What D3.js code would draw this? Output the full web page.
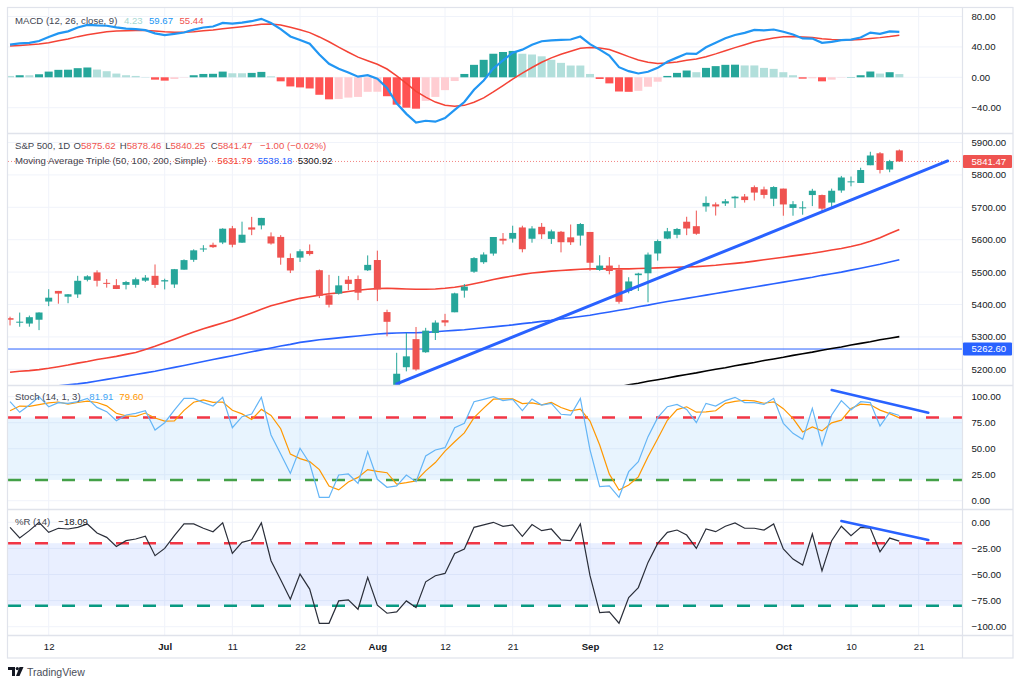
<!DOCTYPE html>
<html><head><meta charset="utf-8">
<script src="https://cdn.jsdelivr.net/npm/d3@7"></script>
<style>body{margin:0;background:#fff;} svg{display:block;font-family:"Liberation Sans",Arial,sans-serif;}</style>
</head><body><svg id="c" width="1024" height="687"></svg>
<script>
// ---------- DATA ----------
const dates = ["06-06","06-07","06-10","06-11","06-12","06-13","06-14","06-17","06-18","06-20","06-21","06-24","06-25","06-26","06-27","06-28",
"07-01","07-02","07-03","07-05","07-08","07-09","07-10","07-11","07-12","07-15","07-16","07-17","07-18","07-19","07-22","07-23","07-24","07-25","07-26","07-29","07-30","07-31",
"08-01","08-02","08-05","08-06","08-07","08-08","08-09","08-12","08-13","08-14","08-15","08-16","08-19","08-20","08-21","08-22","08-23","08-26","08-27","08-28","08-29","08-30",
"09-03","09-04","09-05","09-06","09-09","09-10","09-11","09-12","09-13","09-16","09-17","09-18","09-19","09-20","09-23","09-24","09-25","09-26","09-27","09-30",
"10-01","10-02","10-03","10-04","10-07","10-08","10-09","10-10","10-11","10-14","10-15","10-16","10-17","10-18","10-21","10-22","10-23","10-24"].map(d=>"2024-"+d);

const open = [5357.8,5343.8,5341.2,5353.0,5409.1,5441.9,5424.1,5431.1,5476.2,5499.1,5466.8,5459.6,5460.7,5460.7,5473.6,5488.5,
5471.1,5461.8,5507.4,5537.9,5572.8,5584.2,5591.3,5635.2,5590.8,5638.0,5644.1,5610.2,5608.6,5543.4,5544.7,5565.3,5505.8,5428.7,5433.7,5476.6,5478.7,5505.6,
5537.3,5376.6,5151.1,5206.4,5293.1,5252.6,5312.0,5351.5,5376.0,5442.8,5501.1,5530.5,5557.2,5602.9,5603.1,5637.8,5602.9,5639.7,5602.5,5624.5,5607.3,5612.7,
5623.9,5506.7,5520.1,5507.3,5442.1,5490.5,5496.4,5557.5,5603.3,5615.2,5655.5,5641.7,5702.6,5709.0,5711.9,5727.7,5733.3,5762.2,5755.4,5726.5,
5757.7,5698.1,5698.2,5737.8,5737.8,5714.6,5751.8,5778.4,5775.1,5829.8,5866.7,5816.6,5875.62];
const high = [5362.4,5375.1,5365.8,5375.9,5447.3,5441.9,5432.4,5488.5,5490.4,5505.5,5478.3,5478.3,5472.9,5483.1,5490.8,5523.6,
5479.6,5509.7,5539.3,5570.3,5583.1,5590.8,5635.4,5642.5,5655.6,5670.4,5667.3,5622.5,5614.1,5557.5,5570.4,5585.3,5508.0,5491.5,5488.3,5487.7,5489.5,5551.5,
5566.2,5383.9,5250.9,5312.3,5330.6,5328.0,5351.0,5371.2,5436.5,5463.2,5546.2,5561.0,5608.3,5620.5,5643.2,5643.2,5641.8,5651.6,5631.2,5627.0,5646.9,5651.4,
5623.9,5552.0,5546.3,5522.5,5484.2,5497.9,5560.4,5600.7,5636.3,5636.3,5670.8,5689.8,5733.6,5715.1,5725.4,5735.3,5741.0,5767.4,5763.8,5765.1,
5757.7,5719.1,5718.8,5757.0,5739.3,5757.7,5796.8,5795.0,5822.1,5871.4,5870.4,5846.4,5878.46];
const low = [5335.4,5331.3,5331.5,5320.9,5395.0,5402.5,5404.0,5420.4,5471.3,5455.6,5452.0,5447.6,5446.6,5451.9,5469.5,5451.1,
5446.5,5451.2,5507.4,5531.6,5562.5,5574.6,5586.4,5576.5,5590.4,5614.0,5631.8,5584.8,5522.8,5497.0,5531.4,5550.9,5419.9,5390.9,5430.7,5444.4,5413.4,5503.5,
5410.4,5302.0,5119.3,5193.6,5195.5,5250.9,5290.4,5333.1,5376.0,5421.1,5497.6,5525.5,5550.7,5585.5,5591.0,5560.9,5590.8,5602.3,5587.0,5560.9,5583.7,5581.8,
5504.4,5503.7,5493.1,5402.6,5434.5,5441.7,5406.9,5535.5,5601.7,5604.5,5614.0,5615.1,5686.4,5674.5,5704.2,5698.0,5714.6,5721.0,5727.3,5703.5,
5674.0,5674.0,5677.1,5703.7,5683.8,5694.6,5745.0,5764.8,5775.1,5829.8,5804.5,5808.3,5840.25];
const close = [5353.0,5347.0,5360.8,5375.3,5421.0,5433.7,5431.6,5473.2,5487.0,5473.2,5464.6,5447.9,5469.3,5477.9,5482.9,5460.5,
5475.1,5509.0,5537.0,5567.2,5572.9,5577.0,5633.9,5584.5,5615.4,5631.2,5667.2,5588.3,5544.6,5505.0,5564.4,5555.7,5427.1,5399.2,5459.1,5463.5,5436.4,5522.3,
5446.7,5346.6,5186.3,5240.0,5199.5,5319.3,5344.2,5344.4,5434.4,5455.2,5543.2,5554.3,5608.3,5597.1,5620.9,5570.6,5634.6,5616.8,5625.8,5592.2,5592.0,5648.4,
5528.9,5520.1,5503.4,5408.4,5471.1,5495.5,5554.1,5595.8,5626.0,5633.1,5634.6,5618.3,5713.6,5702.6,5718.6,5732.9,5722.3,5745.4,5738.2,5762.5,
5708.8,5709.5,5699.9,5751.1,5695.9,5751.1,5792.0,5780.1,5815.0,5859.9,5815.3,5842.47,5841.47];

const sma50 = [5191,5194,5196,5199,5203,5208,5213,5219,5224,5230,5235,5240,5246,5252,5261,5271,
5282,5293,5304,5315,5325,5334,5343,5352,5363,5374,5385,5396,5404,5412,5419,5424,5429,5433,5436,5440,5444,5447,
5449,5450,5449,5448,5447,5447,5448,5450,5453,5458,5464,5470,5477,5483,5488,5493,5497,5500,5503,5505,5507,5509,
5510,5510,5510,5510,5510,5511,5512,5513,5514,5515,5516,5517,5519,5521,5524,5527,5530,5534,5538,5542,
5546,5550,5554,5558,5563,5568,5573,5579,5586,5595,5606,5619,5631.79];
const sma100 = [5130,5134,5138,5142,5146,5149,5152,5155,5159,5164,5169,5174,5179,5184,5189,5194,
5200,5206,5212,5218,5224,5230,5236,5242,5248,5254,5260,5266,5272,5277,5283,5287,5291,5294,5297,5300,5303,5306,
5309,5311,5312,5313,5313,5314,5316,5318,5320,5322,5325,5328,5331,5334,5337,5341,5344,5348,5351,5355,5359,5363,
5367,5372,5377,5382,5387,5393,5398,5404,5409,5414,5419,5424,5429,5434,5439,5444,5449,5454,5459,5464,
5469,5474,5479,5484,5490,5495,5500,5506,5512,5518,5524,5531,5538.18];
const sma200Start = "2024-09-05";
const sma200 = [5141,5146,5152,5157,5163,5168,5173,5179,5184,5189,5195,5200,5205,5211,5216,5221,5227,5232,
5237,5243,5248,5253,5259,5264,5269,5275,5280,5285,5291,5296,5300.92];

const macdLine = [43.1,44.7,45.4,47.7,53.0,57.8,60.5,65.5,68.9,68.2,67.8,65.7,64.0,63.4,62.0,57.8,
55.5,57.2,58.9,62.7,65.5,66.8,71.5,70.6,71.9,73.8,76.9,71.4,63.5,53.8,49.2,44.1,30.1,17.8,11.2,6.3,0.8,2.7,
-1.9,-14.0,-34.1,-48.1,-59.7,-57.2,-58.4,-53.7,-42.9,-32.5,-16.4,-4.1,11.7,22.3,32.4,36.4,42.9,47.4,48.6,49.3,49.7,53.6,
43.6,36.4,28.6,13.3,8.1,5.0,7.3,12.4,20.5,25.9,31.2,30.7,39.5,45.5,51.3,55.6,58.5,62.4,61.7,62.9,
59.9,56.3,51.1,51.0,45.4,46.6,48.9,49.6,52.3,58.8,57.1,60.3,59.67];
const signalLine = [41.3,42.0,42.7,43.7,45.5,48.0,50.5,53.5,56.0,58.0,59.8,60.8,61.3,61.6,61.6,60.9,
59.9,59.4,59.3,60.0,61.1,62.2,64.0,65.3,66.6,68.0,69.8,70.1,68.8,65.8,62.5,58.8,53.1,46.8,39.7,33.0,26.6,21.8,
17.1,10.9,1.9,-8.1,-18.4,-26.2,-32.6,-36.8,-38.0,-36.9,-32.8,-27.1,-19.3,-11.0,-2.3,5.4,12.9,19.8,25.6,30.3,34.2,38.1,
39.2,38.6,36.6,32.0,27.2,22.8,19.7,18.2,18.7,20.1,22.3,24.0,27.1,30.8,34.9,39.0,42.9,46.8,49.3,51.8,
53.2,53.6,52.9,52.3,50.7,49.7,49.3,49.2,49.6,51.2,52.2,53.6,55.44];
const histogram = [1.8,2.7,2.7,4.0,7.5,9.8,10.0,12.0,12.9,10.2,8.0,4.9,2.7,1.8,0.4,-3.1,
-4.4,-2.2,-0.4,2.7,4.4,4.6,7.5,5.3,5.3,5.8,7.1,1.3,-5.3,-12.0,-13.3,-14.7,-23.0,-29.0,-28.5,-26.7,-25.8,-19.1,
-19.0,-24.9,-36.0,-40.0,-41.3,-31.0,-25.8,-16.9,-4.9,4.4,16.4,23.0,31.0,33.3,34.7,31.0,30.0,27.6,23.0,19.0,15.5,15.5,
4.4,-2.2,-8.0,-18.7,-19.1,-17.8,-12.4,-5.8,1.8,5.8,8.9,6.7,12.4,14.7,16.4,16.6,15.6,15.6,12.4,11.1,
6.7,2.7,-1.8,-1.3,-5.3,-3.1,-0.4,0.4,2.7,7.6,4.9,6.7,4.23];

const stochK = [95.2,85,92,100,90.4,94.3,93.6,95.2,98.4,89.7,85.6,76.9,82.4,84,86.6,68,
75,87.2,98.4,98.4,94.3,91,99.4,70.2,80.8,83.3,99.4,63.2,44.9,26.3,50.4,36,3.2,3.2,24.7,25.7,16.7,47.2,
20.6,12.9,14.2,24.7,18.3,43,48.8,51,70.2,74.4,95.2,97.5,100,96.2,97.5,86.6,97.8,92,93.6,83.1,82.4,98.4,
48.9,13.5,14.2,3.3,27.9,37.5,61.6,79.8,90.4,92.6,87.8,75,93.6,91,96.2,99.4,94.3,94.3,92.6,98.4,
74.4,64.8,59,88.8,53.5,82.4,96.2,87.2,95.2,94.3,71.8,84.9,81.91];
const stochD = [86.5,91,90.7,92.3,94.1,94.9,92.8,94.4,95.7,94.4,91.2,84.1,81.6,81.1,84.3,79.5,
76.5,76.7,86.9,94.7,97,94.6,94.9,86.9,83.5,78.1,87.8,82,69.2,44.8,40.5,37.6,29.9,14.1,10.4,17.9,22.4,29.9,
28.2,26.9,15.9,17.3,19.1,28.7,36.7,47.6,56.7,65.2,79.9,89,97.6,97.9,97.9,93.4,94,92.1,94.5,89.6,86.4,88,
76.6,53.6,25.5,10.3,15.1,22.9,42.3,59.6,77.3,87.6,90.3,85.1,85.5,86.5,93.6,95.5,96.6,96,93.7,95.1,
88.5,79.2,66.1,70.9,67.1,74.9,77.4,88.6,92.9,92.2,87.1,83.7,79.6];
const williamsR = [-4.8,-15,-8,0,-9.6,-5.7,-6.4,-4.8,-1.6,-10.3,-14.4,-23.1,-17.6,-16,-13.4,-32,
-25,-12.8,-1.6,-1.6,-5.7,-9,-0.6,-29.8,-19.2,-16.7,-0.6,-36.8,-55.1,-73.7,-49.6,-64,-96.8,-96.8,-75.3,-74.3,-83.3,-52.8,
-79.4,-87.1,-85.8,-75.3,-81.7,-57,-51.2,-49,-29.8,-25.6,-4.8,-2.5,0,-3.8,-2.5,-13.4,-2.2,-8,-6.4,-16.9,-17.6,-1.6,
-51.1,-86.5,-85.8,-96.7,-72.1,-62.5,-38.4,-20.2,-9.6,-7.4,-12.2,-25,-6.4,-9,-3.8,-0.6,-5.7,-5.7,-7.4,-1.6,
-25.6,-35.2,-41,-11.2,-46.5,-17.6,-3.8,-12.8,-4.8,-5.7,-28.2,-15.1,-18.09];

const xTickDates = ["2024-06-12","2024-07-01","2024-07-11","2024-07-22","2024-08-01","2024-08-12","2024-08-21","2024-09-03","2024-09-12","2024-10-01","2024-10-10","2024-10-21"];
const xTickLabels = ["12","Jul","11","22","Aug","12","21","Sep","12","Oct","10","21"];
const priceTicks = [5200,5300,5400,5500,5600,5700,5800,5900];
const macdTicks = [-40,0,40,80];
const stochTicks = [0,25,50,75,100];
const wrTicks = [-100,-75,-50,-25,0];
const stochLevels = [80,20];
const wrLevels = [-20,-80];
const hLine = 5262.60;
const lastPrice = 5841.47;
const priceTrend = [["2024-08-05",5155],["2024-10-24",5843]];
const stochTrend = [["2024-10-08",106.5],["2024-10-22",84.6]];
const wrTrend = [["2024-10-09",1.2],["2024-10-22",-17]];

// ---------- LAYOUT ----------
const svg = d3.select("#c");
const L = 8, PR = 962, AR = 1013;
const P = {macd:[8,133], price:[134,385], stoch:[386,509], wr:[510,635]};
const FS = "9.6px", TXT = "#131722";
const pos = d => dates.indexOf(d);
const x = d3.scaleLinear().domain([4,87]).range([48.7,851]);
const yM = d3.scaleLinear().domain([-40,80]).range([107.7,16.5]);
const yP = d3.scaleLinear().domain([5200,5900]).range([369.3,142.5]);
const yS = d3.scaleLinear().domain([0,100]).range([500.7,396.7]);
const yW = d3.scaleLinear().domain([-100,0]).range([626.7,522.3]);
const N = close.length;
const idx = d3.range(N);

svg.append("rect").attr("width",1024).attr("height",687).attr("fill","#fff");
const defs = svg.append("defs");
Object.entries(P).forEach(([k,[t,b]])=>{
  defs.append("clipPath").attr("id","clip-"+k).append("rect").attr("x",L).attr("y",t).attr("width",PR-L).attr("height",b-t);
});

// vertical grid
const grid = svg.append("g");
xTickDates.forEach(d=>{
  grid.append("line").attr("x1",x(pos(d))).attr("x2",x(pos(d))).attr("y1",8).attr("y2",635).attr("stroke","#f0f3fa").attr("stroke-width",1);
});
function hgrid(scale, ticks){
  ticks.forEach(t=>grid.append("line").attr("x1",L).attr("x2",PR).attr("y1",scale(t)).attr("y2",scale(t)).attr("stroke","#f0f3fa").attr("stroke-width",1));
}
hgrid(yM,macdTicks); hgrid(yP,priceTicks); hgrid(yS,stochTicks); hgrid(yW,wrTicks);

// ---------- MACD ----------
const gM = svg.append("g").attr("clip-path","url(#clip-macd)");
gM.selectAll("rect.h").data(idx).join("rect")
  .attr("x",i=>x(i)-4).attr("width",8)
  .attr("y",i=>Math.min(yM(0),yM(histogram[i])))
  .attr("height",i=>Math.abs(yM(histogram[i])-yM(0)))
  .attr("fill",i=>{
    const v=histogram[i], p=i>0?histogram[i-1]:v;
    if(v>=0) return v>p?"#26a69a":"#b2dfdb";
    return v<p?"#ff5252":"#ffcdd2";
  });
const lineGen = (arr, ys) => d3.line().x(i=>x(i)).y(i=>ys(arr[i]));
gM.append("path").attr("d",lineGen(signalLine,yM)(idx)).attr("fill","none").attr("stroke","#f44336").attr("stroke-width",1.5);
gM.append("path").attr("d",lineGen(macdLine,yM)(idx)).attr("fill","none").attr("stroke","#2196f3").attr("stroke-width",2.2);

// ---------- PRICE ----------
const gP = svg.append("g").attr("clip-path","url(#clip-price)");
gP.append("line").attr("x1",L).attr("x2",PR).attr("y1",yP(hLine)).attr("y2",yP(hLine)).attr("stroke","#2962ff").attr("stroke-width",1);
gP.append("line").attr("x1",L).attr("x2",PR).attr("y1",yP(lastPrice)).attr("y2",yP(lastPrice)).attr("stroke","#ef5350").attr("stroke-width",1).attr("stroke-dasharray","1,2").attr("opacity",0.7);
const s200start = pos(sma200Start);
gP.append("path").attr("d",d3.line().x((v,k)=>x(s200start+k)).y(v=>yP(v))(sma200)).attr("fill","none").attr("stroke","#000").attr("stroke-width",1.6);
gP.append("path").attr("d",lineGen(sma100,yP)(idx)).attr("fill","none").attr("stroke","#2962ff").attr("stroke-width",1.6);
gP.append("path").attr("d",lineGen(sma50,yP)(idx)).attr("fill","none").attr("stroke","#f44336").attr("stroke-width",1.6);
const cc = i => close[i]>=open[i]?"#26a69a":"#ef5350";
gP.selectAll("line.w").data(idx).join("line").attr("x1",i=>x(i)).attr("x2",i=>x(i))
  .attr("y1",i=>yP(high[i])).attr("y2",i=>yP(low[i])).attr("stroke",cc).attr("stroke-width",1);
gP.selectAll("rect.b").data(idx).join("rect").attr("x",i=>x(i)-3.5).attr("width",7)
  .attr("y",i=>yP(Math.max(open[i],close[i])))
  .attr("height",i=>Math.max(1,Math.abs(yP(open[i])-yP(close[i])))).attr("fill",cc);
gP.append("line").attr("x1",x(pos(priceTrend[0][0]))).attr("y1",yP(priceTrend[0][1]))
  .attr("x2",x(pos(priceTrend[1][0]))).attr("y2",yP(priceTrend[1][1])).attr("stroke","#2962ff").attr("stroke-width",3).attr("stroke-linecap","round");

// ---------- STOCH ----------
const gS = svg.append("g").attr("clip-path","url(#clip-stoch)");
gS.append("rect").attr("x",L).attr("width",PR-L).attr("y",yS(80)).attr("height",yS(20)-yS(80)).attr("fill","rgba(33,150,243,0.1)");
gS.append("line").attr("x1",L).attr("x2",PR).attr("y1",yS(stochLevels[0])).attr("y2",yS(stochLevels[0])).attr("stroke","#f23645").attr("stroke-width",2.5).attr("stroke-dasharray","13,14");
gS.append("line").attr("x1",L).attr("x2",PR).attr("y1",yS(stochLevels[1])).attr("y2",yS(stochLevels[1])).attr("stroke","#43a047").attr("stroke-width",2.5).attr("stroke-dasharray","13,14");
gS.append("path").attr("d",lineGen(stochD,yS)(idx)).attr("fill","none").attr("stroke","#ff9800").attr("stroke-width",1.2);
gS.append("path").attr("d",lineGen(stochK,yS)(idx)).attr("fill","none").attr("stroke","#64b5f6").attr("stroke-width",1.2);
gS.append("line").attr("x1",x(pos(stochTrend[0][0]))).attr("y1",yS(stochTrend[0][1]))
  .attr("x2",x(pos(stochTrend[1][0]))).attr("y2",yS(stochTrend[1][1])).attr("stroke","#2962ff").attr("stroke-width",2.5).attr("stroke-linecap","round");

// ---------- %R ----------
const gW = svg.append("g").attr("clip-path","url(#clip-wr)");
gW.append("rect").attr("x",L).attr("width",PR-L).attr("y",yW(-20)).attr("height",yW(-80)-yW(-20)).attr("fill","rgba(41,98,255,0.1)");
gW.append("line").attr("x1",L).attr("x2",PR).attr("y1",yW(wrLevels[0])).attr("y2",yW(wrLevels[0])).attr("stroke","#f23645").attr("stroke-width",2.5).attr("stroke-dasharray","13,14");
gW.append("line").attr("x1",L).attr("x2",PR).attr("y1",yW(wrLevels[1])).attr("y2",yW(wrLevels[1])).attr("stroke","#089981").attr("stroke-width",2.5).attr("stroke-dasharray","13,14");
gW.append("path").attr("d",lineGen(williamsR,yW)(idx)).attr("fill","none").attr("stroke","#2a2e39").attr("stroke-width",1.2);
gW.append("line").attr("x1",x(pos(wrTrend[0][0]))).attr("y1",yW(wrTrend[0][1]))
  .attr("x2",x(pos(wrTrend[1][0]))).attr("y2",yW(wrTrend[1][1])).attr("stroke","#2962ff").attr("stroke-width",2.5).attr("stroke-linecap","round");

// ---------- separators / frame ----------
const sep = svg.append("g").attr("stroke","#e0e3eb").attr("fill","none");
[133.5,385.5,509.5,635.5].forEach(y=>sep.append("line").attr("x1",L).attr("x2",AR).attr("y1",y).attr("y2",y).attr("stroke-width",1.5));
sep.append("line").attr("x1",PR+0.5).attr("x2",PR+0.5).attr("y1",7.5).attr("y2",658).attr("stroke-width",1.2);
sep.append("rect").attr("x",L-0.5).attr("y",7.5).attr("width",AR-L+0.5).attr("height",650.5).attr("stroke-width",1.2);

// ---------- axes ----------
function rightAxis(scale, ticks){
  const g = svg.append("g").attr("transform",`translate(${PR},0)`)
    .call(d3.axisRight(scale).tickValues(ticks).tickFormat(d3.format(".2f")).tickSize(0).tickPadding(9.5));
  g.select(".domain").remove();
  g.selectAll("text").attr("font-size",FS).attr("fill",TXT).attr("font-family","Liberation Sans, Arial, sans-serif").text(function(d){return d3.format(".2f")(d).replace("-","−");});
}
rightAxis(yM,macdTicks); rightAxis(yP,priceTicks); rightAxis(yS,stochTicks); rightAxis(yW,wrTicks);

const gx = svg.append("g").attr("transform","translate(0,635)")
  .call(d3.axisBottom(x).tickValues(xTickDates.map(pos)).tickFormat((d,i)=>xTickLabels[i]).tickSize(0).tickPadding(8));
gx.select(".domain").remove();
gx.selectAll("text").attr("font-size",FS).attr("fill",TXT).attr("font-family","Liberation Sans, Arial, sans-serif")
  .attr("font-weight",(d,i)=>/[A-Za-z]/.test(xTickLabels[i])?"bold":"normal");

// price tags
function tag(v, color){
  const y = yP(v);
  svg.append("rect").attr("x",PR+1).attr("y",y-6.5).attr("width",AR-PR-2).attr("height",13).attr("fill",color).attr("rx",1);
  svg.append("text").attr("x",PR+9.5).attr("y",y+3.4).attr("font-size",FS).attr("fill","#fff").text(d3.format(".2f")(v));
}
tag(lastPrice,"#ef5350");
tag(hLine,"#2962ff");

// ---------- legends ----------
function legend(y, parts){
  const t = svg.append("text").attr("y",y).attr("font-size",FS);
  parts.forEach(([s,c,xx])=>{ const sp=t.append("tspan").attr("fill",c).text(s); if(xx!=null) sp.attr("x",xx); });
}
const f2 = d3.format(".2f");
legend(24,[["MACD (12, 26, close, 9)","#434651",15],[f2(histogram[N-1]),"#a5d8d2",124],[f2(macdLine[N-1]),"#2196f3",149],[f2(signalLine[N-1]),"#ef5350",179.5]]);
const chg = close[N-1]-close[N-2];
legend(149,[["S&P 500, 1D","#434651",15],["O","#434651",73.5],[f2(open[N-1]),"#ef5350"],["H","#434651",119.8],[f2(high[N-1]),"#ef5350"],
  ["L","#434651",165.2],[f2(low[N-1]),"#ef5350"],["C","#434651",210.7],[f2(close[N-1]),"#ef5350"],
  [`−${f2(Math.abs(chg))} (−${f2(Math.abs(chg)/close[N-2]*100)}%)`,"#ef5350",260]]);
legend(163.5,[["Moving Average Triple (50, 100, 200, Simple)","#434651",15],[f2(sma50[N-1]),"#f44336",217.3],[f2(sma100[N-1]),"#2962ff",257.7],[f2(sma200[sma200.length-1]),"#131722",297.7]]);
legend(399.5,[["Stoch (14, 1, 3)","#434651",15],[f2(stochK[N-1]),"#42a5f5",89.3],[f2(stochD[N-1]),"#ff9800",119.3]]);
legend(525,[["%R (14)","#434651",15],["−"+f2(Math.abs(williamsR[N-1])),"#131722",58.3]]);

// ---------- TradingView logo ----------
const lg = svg.append("g").attr("fill","#131722");
lg.append("path").attr("d","M8,667 h7 v9 h-3 v-6 h-4 z");
lg.append("circle").attr("cx",17.3).attr("cy",668.6).attr("r",1.6);
lg.append("path").attr("d","M19.5,667 h4 l-4,9 h-3.5 z");
svg.append("text").attr("x",27).attr("y",676).attr("font-size","10.5px").attr("fill","#4a4e59").text("TradingView");
</script></body></html>
